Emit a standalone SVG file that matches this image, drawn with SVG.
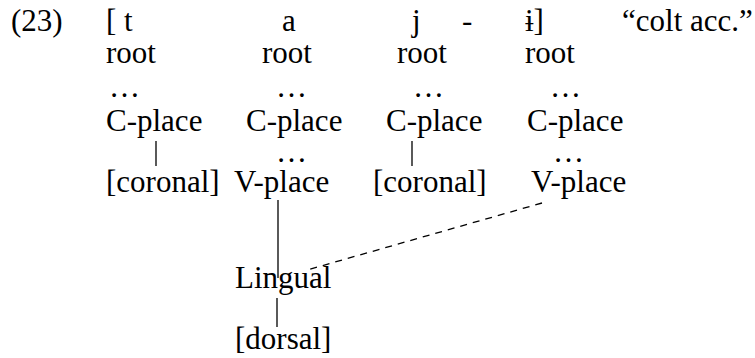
<svg xmlns="http://www.w3.org/2000/svg" width="755" height="358" viewBox="0 0 755 358">
<style>
text{font-family:"Liberation Serif","Times New Roman",serif;font-size:31px;fill:#000}
.ln{stroke:#000;stroke-width:1.3;fill:none}
.ds{stroke:#000;stroke-width:1.3;fill:none;stroke-dasharray:7,6}
</style>
<rect width="755" height="358" fill="#fff"/>
<g id="header">
<text x="11" y="31">(23)</text>
<text x="106" y="31">[ t</text>
<text x="282" y="31">a</text>
<text x="412" y="31">j</text>
<text x="462" y="31">-</text>
<text x="525" y="31">ɨ]</text>
<text x="622" y="31">“colt acc.”</text>
</g>
<g id="seg-t">
<text x="106" y="63">root</text>
<text x="109" y="97">…</text>
<text x="106" y="131">C-place</text>
<text x="106" y="192">[coronal]</text>
</g>
<g id="seg-a">
<text x="262" y="63">root</text>
<text x="276" y="97">…</text>
<text x="246" y="131">C-place</text>
<text x="276" y="162">…</text>
<text x="234" y="192">V-place</text>
</g>
<g id="seg-j">
<text x="397" y="63">root</text>
<text x="413" y="97">…</text>
<text x="386" y="131">C-place</text>
<text x="373" y="192">[coronal]</text>
</g>
<g id="seg-i">
<text x="525" y="63">root</text>
<text x="550" y="97">…</text>
<text x="527" y="131">C-place</text>
<text x="553" y="162">…</text>
<text x="531" y="192">V-place</text>
</g>
<g id="lingual"><text x="235" y="288">Lingual</text></g>
<g id="dorsal"><text x="235" y="349">[dorsal]</text></g>
<g id="connectors">
<line class="ln" x1="156" y1="141" x2="156" y2="166"/>
<line class="ln" x1="412" y1="141" x2="412" y2="166"/>
<line class="ln" x1="278" y1="200" x2="278" y2="278"/>
<line class="ds" x1="542" y1="203" x2="307" y2="270"/>
<line class="ln" x1="277" y1="298" x2="277" y2="327"/>
</g>
</svg>
